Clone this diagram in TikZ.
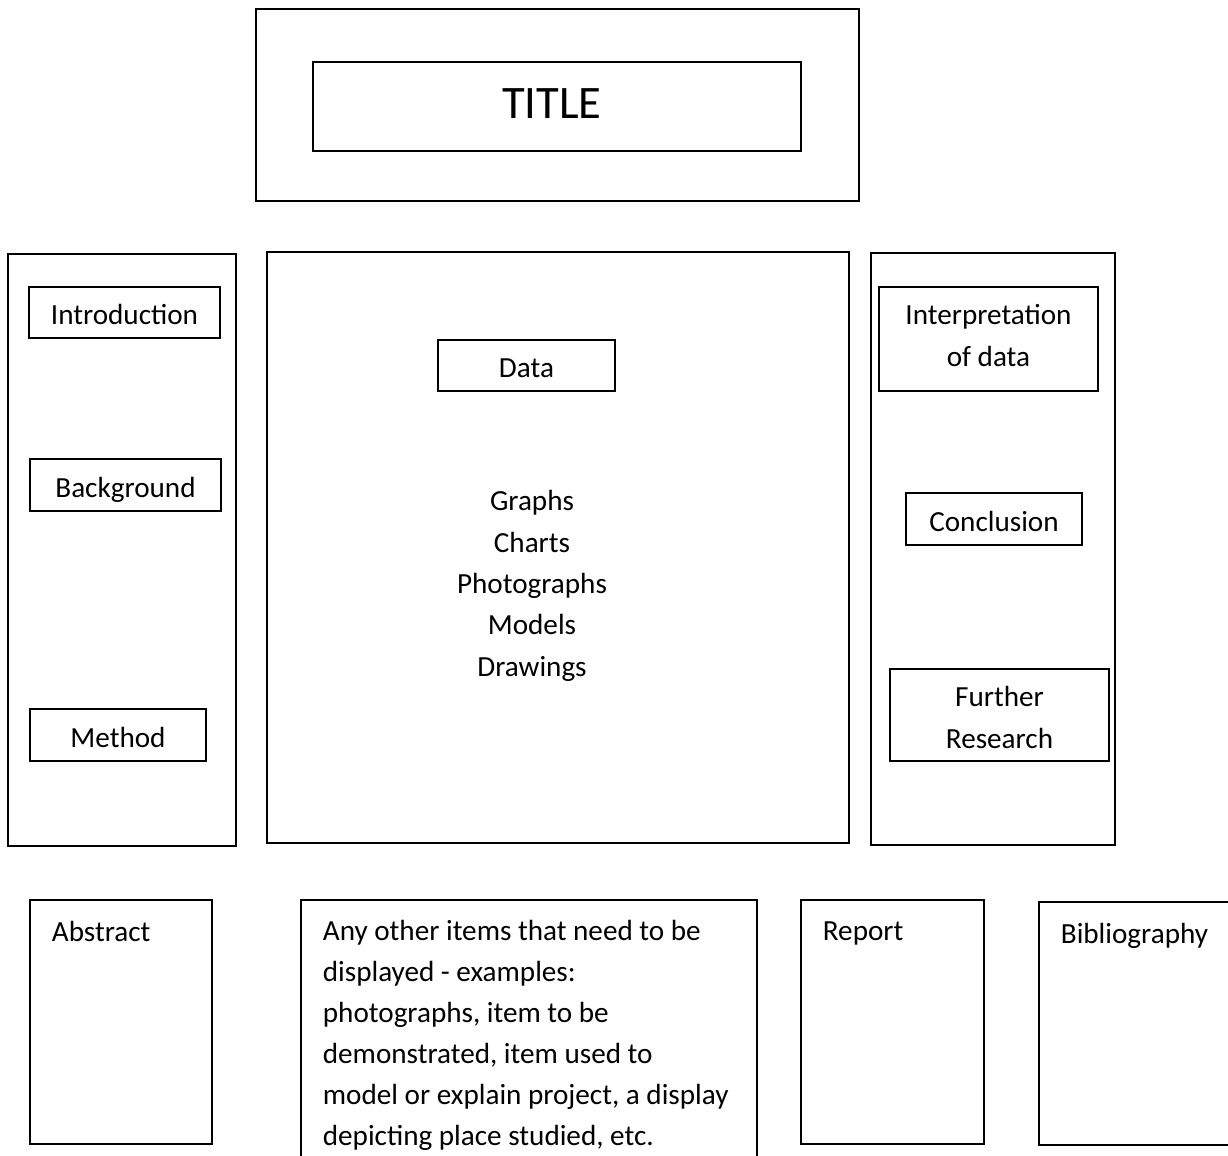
\documentclass[tikz,border=0pt]{standalone}
\usepackage{fontspec}
\setmainfont{Carlito}
\begin{document}
\begin{tikzpicture}[x=0.02cm,y=-0.02cm,line width=1pt,
  lbl/.style={inner sep=0pt,anchor=base,align=center,font=\fontsize{16.6}{23.5}\selectfont},
  lft/.style={inner sep=0pt,anchor=base west,align=left,font=\fontsize{16.6}{23.3}\selectfont}]
\useasboundingbox (0,0) rectangle (1228,1156);
\clip (0,0) rectangle (1228,1156);
% title
\draw (256,9) rectangle (859,201);
\draw (313,62) rectangle (801,151);
\node[lbl,font=\fontsize{26.5}{30}\selectfont] (title) at (552,118) {TITLE};
% left panel
\draw (8,254) rectangle (236,846);
\draw (29,287) rectangle (220,338);
\node[lbl] (intro) at (124.5,324) {Introduction};
\draw (30,459) rectangle (221,511);
\node[lbl] (backgr) at (125.5,497) {Background};
\draw (30,709) rectangle (206,761);
\node[lbl] (method) at (118,747) {Method};
% middle panel
\draw (267,252) rectangle (849,843);
\draw (438,340) rectangle (615,391);
\node[lbl] (data) at (526.5,377) {Data};
% base anchor sits on the last line
\node[lbl] (media) at (532,676) {Graphs\\Charts\\Photographs\\Models\\Drawings};
% right panel
\draw (871,253) rectangle (1115,845);
\draw (879,287) rectangle (1098,391);
\node[lbl] (interp) at (988.5,366) {Interpretation\\of data};
\draw (906,493) rectangle (1082,545);
\node[lbl] (concl) at (994,531) {Conclusion};
\draw (890,669) rectangle (1109,761);
\node[lbl] (further) at (999.5,748) {Further\\Research};
% bottom row
\draw (30,900) rectangle (212,1144);
\node[lft] (abstract) at (51,941) {Abstract};
\draw (301,900) rectangle (757,1200);
\node[lft] (other) at (322,1145) {Any other items that need to be\\displayed - examples:\\photographs, item to be\\demonstrated, item used to\\model or explain project, a display\\depicting place studied, etc.};
\draw (801,900) rectangle (984,1144);
\node[lft] (report) at (822,940) {Report};
\draw (1039,902) rectangle (1260,1145);
\node[lft] (biblio) at (1060,943) {Bibliography};
\end{tikzpicture}
\end{document}
